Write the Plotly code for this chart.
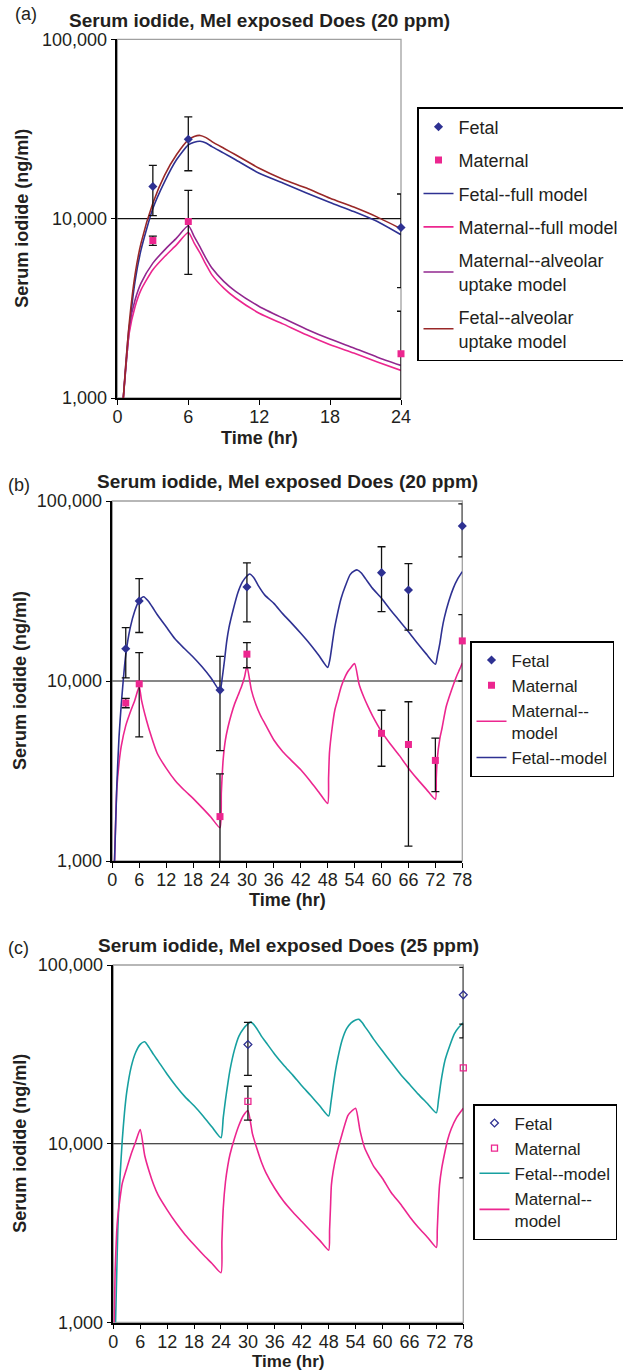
import plotly.graph_objects as go

W, H = 623, 1372
FONT = "Liberation Sans, Arial, sans-serif"
TXT = "#231F20"

# ---------------- data ----------------
# Panel (a): 20 ppm, single day
a_obs_t = [3, 6, 24]
a_fetal = [15100, 27700, 8920]
a_fetal_err = [4700, 9200, 4800]
a_mat = [7550, 9640, 1765]
a_mat_err = [450, 4750, 1280]

a_model_t = [0.5, 1, 1.5, 2, 3, 4, 5, 6, 6.5, 7, 7.5, 8, 9, 10, 12, 14, 16, 18, 20, 22, 24]
a_fetal_full = [1000, 2400, 4500, 6700, 11400, 16100, 21300, 25800, 26700, 27000, 26400, 25200, 23200,
                 21300, 17900, 15800, 13900, 12300, 10960, 9640, 8130]
a_fetal_alv = [1000, 2600, 4900, 7300, 12200, 17500, 22700, 27500, 28700, 29100, 28300, 26900, 24700,
               22700, 19100, 16600, 14800, 13000, 11600, 10200, 8780]
a_mat_full = [1000, 2300, 3240, 4010, 5190, 6150, 7140, 8370, 7300, 6420, 5550, 4860, 4100,
              3610, 2970, 2590, 2250, 1980, 1780, 1590, 1425]
a_mat_alv = [1000, 2510, 3530, 4370, 5650, 6700, 7790, 9120, 7950, 6940, 6000, 5300, 4470,
             3930, 3240, 2790, 2420, 2130, 1900, 1690, 1520]

# Panel (b): 20 ppm, repeated exposure
b_fetal_t = [3, 6, 24, 30, 60, 66, 78]
b_fetal = [15100, 27800, 8900, 33300, 40000, 32000, 72600]
b_fetal_err = [4700, 9200, 4800, 12000, 15700, 12850, 23700]
b_mat_t = [3, 6, 24, 30, 60, 66, 72, 78]
b_mat = [7550, 9640, 1765, 14100, 5120, 4440, 3620, 16700]
b_mat_err = [450, 4750, 1280, 2250, 1760, 3230, 1190, 6700]

b_fetal_model_t = [0.5, 1, 1.5, 2, 3, 4, 5, 6, 7, 8, 9, 10, 12, 14, 16, 18, 20, 22, 24,
                   24.5, 25, 25.5, 26, 27, 28, 29, 30, 30.6, 31.5, 32.5, 34, 36, 38, 40, 42, 44, 46, 48,
                   48.5, 49, 49.5, 50, 51, 52, 53, 54, 54.6, 55.5, 56.5, 58, 60, 62, 64, 66, 68, 70, 72,
                   72.5, 73, 73.5, 74, 75, 76, 77, 78]
b_fetal_model = [1000, 2600, 4900, 7400, 14000, 19800, 24500, 28000, 29400, 27800, 25600, 23400,
                 20000, 17100, 15200, 13600, 12000, 10400, 8820,
                 10400, 13000, 16600, 19800, 25200, 31000, 35500, 38300, 39300, 37600, 34000, 30000,
                 27000, 23600, 20900, 18400, 16100, 13900, 11900,
                 13200, 16000, 19400, 22500, 28800, 34000, 39000, 41000, 41400, 39800, 36800, 32700,
                 28800, 24800, 21600, 18800, 16200, 14100, 12400,
                 14000, 16200, 19500, 22500, 27800, 32800, 37000, 40500]

b_mat_model_t = [0.5, 1, 1.5, 2, 3, 4, 5, 6, 6.5, 7.6, 8.7, 10, 12, 14, 16, 18, 20, 22, 24,
                 24.3, 24.7, 25.2, 25.8, 26.5, 27.3, 28, 28.8, 29.5, 30, 31, 32, 33, 34, 36, 38, 40, 42, 44, 46, 48,
                 48.2, 48.4, 49, 49.6, 50.3, 51, 52, 52.5, 53.2, 54, 55, 56, 57, 58, 60, 62, 64, 66, 68, 70, 72,
                 72.2, 72.4, 73, 73.5, 74.4, 75.6, 76.7, 77.4, 78]
b_mat_model = [1000, 2500, 3500, 4350, 5650, 6700, 7800, 9300, 7850, 6070, 4910, 3970, 3280,
               2800, 2480, 2230, 1980, 1750, 1530,
               2400, 3640, 4700, 5570, 6500, 7510, 8300, 9310, 10600, 12100, 8900, 7400, 6450, 5800,
               4700, 4050, 3600, 3210, 2800, 2420, 2090,
               2900, 4000, 5500, 6900, 8000, 9300, 10700, 11300, 11900, 12500, 9600, 8200, 7200, 6400,
               5230, 4450, 3850, 3280, 2850, 2500, 2200,
               2900, 3640, 4800, 5500, 7190, 8900, 10600, 11600, 12600]

# Panel (c): 25 ppm, repeated exposure
c_obs_t = [30, 78]
c_fetal = [35900, 68100]
c_fetal_err = [11800, 29000]
c_mat = [17270, 26550]
c_mat_err = [3700, 20100]

c_fetal_model_t = [0.5, 1, 1.5, 2, 2.5, 3, 4, 5, 6, 7, 8, 9, 10, 12, 14, 16, 18, 20, 22, 24,
                   24.5, 25, 25.5, 26, 27, 28, 29, 30, 30.6, 31, 32, 33, 34, 36, 38, 40, 42, 44, 46, 48,
                   48.5, 49, 49.5, 50, 51, 52, 53, 54, 54.7, 55.5, 56, 57, 58, 60, 62, 64, 66, 68, 70, 72,
                   72.5, 73, 73.5, 74, 75, 76, 77, 78]
c_fetal_model = [1000, 3300, 6500, 10500, 15000, 19500, 27000, 32500, 36000, 37200, 34500, 31500,
                 29000, 24500, 21000, 18300, 16300, 14300, 12400, 10800,
                 14000, 17600, 21500, 25800, 33500, 40000, 44000, 46800, 47900, 47300, 44000, 40000,
                 37000, 31600, 27500, 24200, 21100, 18600, 16300, 14300,
                 17000, 21000, 25500, 29800, 38000, 44000, 47500, 49300, 49700, 47500, 45500, 42000,
                 38500, 33000, 28400, 24500, 21500, 18900, 16800, 14900,
                 17800, 22000, 26100, 29800, 35500, 41200, 44800, 47500]

c_mat_model_t = [0.2, 0.4, 0.75, 1, 1.5, 2, 3, 4, 5, 6, 7, 8, 9, 10, 12, 14, 16, 18, 20, 22, 24,
                 24.2, 24.5, 25, 25.5, 26, 27, 28, 29, 30, 31, 32, 33, 34, 36, 38, 40, 42, 44, 46, 48,
                 48.2, 48.4, 48.6, 49, 49.7, 50.8, 52.3, 53.2, 54, 55, 56, 57, 58, 60, 62, 64, 66, 68, 70, 72,
                 72.2, 72.4, 72.7, 73.2, 73.9, 74.5, 75.3, 76.5, 78]
c_mat_model = [1000, 1900, 3200, 3900, 4950, 6000, 7300, 8800, 10300, 12000, 8600, 7000, 5900,
               5160, 4270, 3600, 3100, 2720, 2400, 2140, 1900,
               2840, 4350, 6130, 7500, 8700, 10700, 12700, 14400, 15300, 11400, 9400, 7910, 6900,
               5620, 4750, 4150, 3670, 3250, 2880, 2540,
               3300, 4400, 5870, 7000, 8610, 10900, 14400, 15300, 15800, 11800, 9500, 8400, 7500,
               6390, 5300, 4600, 3920, 3400, 3000, 2630,
               3300, 4350, 5870, 7300, 8990, 10500, 12100, 14000, 15800]

x_ticks_a = [0, 6, 12, 18, 24]
x_ticks_bc = [0, 6, 12, 18, 24, 30, 36, 42, 48, 54, 60, 66, 72, 78]
y_tickvals = [1000, 10000, 100000]
y_ticktext = ["1,000", "10,000", "100,000"]

# ---------------- colours ----------------
C_FETAL = "#2E3192"
C_MAT = "#EC268F"
C_PURPLE = "#92278F"
C_RED = "#992828"
C_TEAL = "#17A0A0"

fig = go.Figure()


def add_line(t, v, xa, ya, name, color, legend, rank):
    fig.add_trace(go.Scatter(x=t, y=v, mode="lines", name=name, xaxis=xa, yaxis=ya,
                             legend=legend, legendgroup=legend + name, legendrank=rank,
                             line=dict(color=color, width=1.6, shape="spline", smoothing=0.6),
                             hoverinfo="skip"))


def add_obs(t, v, err, xa, ya, name, color, symbol, size, legend, rank, hollow=False):
    fig.add_trace(go.Scatter(x=t, y=v, mode="markers", xaxis=xa, yaxis=ya, showlegend=False,
                             marker=dict(size=size, opacity=0),
                             error_y=dict(type="data", array=err, color="#111111",
                                          thickness=1.3, width=4),
                             hoverinfo="skip"))
    if hollow:
        mk = dict(symbol=symbol + "-open", size=size, color=color, line=dict(width=1.3, color=color))
    else:
        mk = dict(symbol=symbol, size=size, color=color, line=dict(width=0))
    fig.add_trace(go.Scatter(x=t, y=v, mode="markers", name=name, xaxis=xa, yaxis=ya,
                             legend=legend, legendgroup=legend + name, legendrank=rank,
                             marker=mk, cliponaxis=False, hoverinfo="skip"))


# Panel (a)
add_line(a_model_t, a_fetal_full, "x", "y", "Fetal--full model", C_FETAL, "legend", 3)
add_line(a_model_t, a_mat_full, "x", "y", "Maternal--full model", C_MAT, "legend", 4)
add_line(a_model_t, a_mat_alv, "x", "y", "Maternal--alveolar<br>uptake model", C_PURPLE, "legend", 5)
add_line(a_model_t, a_fetal_alv, "x", "y", "Fetal--alveolar<br>uptake model", C_RED, "legend", 6)
add_obs(a_obs_t, a_fetal, a_fetal_err, "x", "y", "Fetal", C_FETAL, "diamond", 7, "legend", 1)
add_obs(a_obs_t, a_mat, a_mat_err, "x", "y", "Maternal", C_MAT, "square", 7, "legend", 2)

# Panel (b)
add_line(b_mat_model_t, b_mat_model, "x2", "y2", "Maternal--<br>model", C_MAT, "legend2", 3)
add_line(b_fetal_model_t, b_fetal_model, "x2", "y2", "Fetal--model", C_FETAL, "legend2", 4)
add_obs(b_fetal_t, b_fetal, b_fetal_err, "x2", "y2", "Fetal", C_FETAL, "diamond", 7, "legend2", 1)
add_obs(b_mat_t, b_mat, b_mat_err, "x2", "y2", "Maternal", C_MAT, "square", 7, "legend2", 2)

# Panel (c)
add_line(c_fetal_model_t, c_fetal_model, "x3", "y3", "Fetal--model", C_TEAL, "legend3", 3)
add_line(c_mat_model_t, c_mat_model, "x3", "y3", "Maternal--<br>model", C_MAT, "legend3", 4)
add_obs(c_obs_t, c_fetal, c_fetal_err, "x3", "y3", "Fetal", C_FETAL, "diamond", 6, "legend3", 1, hollow=True)
add_obs(c_obs_t, c_mat, c_mat_err, "x3", "y3", "Maternal", C_MAT, "square", 6, "legend3", 2, hollow=True)


def px_x(px):
    return px / W


def px_y(py):
    return 1 - py / H


tickfont = dict(family=FONT, size=18, color=TXT)


def xaxis(dom, ticks, anchor):
    return dict(domain=dom, range=[0, ticks[-1]], tickvals=ticks, ticks="outside", ticklen=5,
                tickwidth=1.3, tickcolor="black", showline=True, linecolor="black", linewidth=1.5,
                showgrid=False, zeroline=False, tickfont=tickfont, anchor=anchor, fixedrange=True,
                ticklabelstandoff=-3)


def yaxis(dom, anchor):
    return dict(domain=dom, type="log", range=[3, 5], tickvals=y_tickvals, ticktext=y_ticktext,
                ticks="outside", ticklen=5, tickwidth=1.3, tickcolor="black", showline=True,
                linecolor="black", linewidth=1.5, showgrid=False, zeroline=False,
                tickfont=tickfont, anchor=anchor, fixedrange=True)


# plot area pixel boxes: (left, right, top, bottom)
boxes = {
    "a": (117.4, 401.0, 39.3, 398.0),
    "b": (112.3, 462.3, 501.0, 861.0),
    "c": (113.3, 463.3, 965.0, 1322.5),
}


def dom(b):
    l, r, t, btm = b
    return [px_x(l), px_x(r)], [px_y(btm), px_y(t)]


xa_d, ya_d = dom(boxes["a"])
xb_d, yb_d = dom(boxes["b"])
xc_d, yc_d = dom(boxes["c"])


def legend_style(size):
    return dict(font=dict(family=FONT, size=size, color=TXT), bgcolor="white",
                bordercolor="black", borderwidth=1.5, xanchor="left", yanchor="top",
                itemclick=False, itemdoubleclick=False, traceorder="grouped")


fig.update_layout(
    width=W, height=H,
    margin=dict(l=0, r=0, t=0, b=0, autoexpand=False),
    paper_bgcolor="white", plot_bgcolor="white",
    font=dict(family=FONT, color=TXT, size=18),
    xaxis=xaxis(xa_d, x_ticks_a, "y"), yaxis=yaxis(ya_d, "x"),
    xaxis2=xaxis(xb_d, x_ticks_bc, "y2"), yaxis2=yaxis(yb_d, "x2"),
    xaxis3=xaxis(xc_d, x_ticks_bc, "y3"), yaxis3=yaxis(yc_d, "x3"),
    legend=dict(x=px_x(417), y=px_y(107), tracegroupgap=7, **legend_style(18)),
    legend2=dict(x=px_x(470), y=px_y(641), tracegroupgap=0, **legend_style(17)),
    legend3=dict(x=px_x(473), y=px_y(1104), tracegroupgap=0, **legend_style(17)),
    showlegend=True,
)

shapes = []
for xr, yr in (("x", "y"), ("x2", "y2"), ("x3", "y3")):
    shapes.append(dict(type="rect", xref=xr + " domain", yref=yr + " domain", x0=0, x1=1, y0=0, y1=1,
                       line=dict(color="#A0A0A0", width=1.3), layer="below"))
    shapes.append(dict(type="line", xref=xr + " domain", yref=yr + " domain", x0=0, x1=1, y0=0.5, y1=0.5,
                       line=dict(color="#111111", width=1.1), layer="below"))
fig.update_layout(shapes=shapes)

title_text = "<b>Serum iodide, MeI exposed Does ({} ppm)</b>"
ann = []
# key, label, label x, label y, ppm, y-title x, x-title centre y, x-title size
panels = [("a", "(a)", 26, 14, 20, 22, 437.5, 18),
          ("b", "(b)", 18.5, 485, 20, 20, 900.5, 18),
          ("c", "(c)", 18.5, 948, 25, 20, 1361, 17)]
for key, lab, lab_x, lab_y, ppm, ytitle_x, xt_y, xt_size in panels:
    l, r, t, btm = boxes[key]
    ann.append(dict(text=lab, x=px_x(lab_x), y=px_y(lab_y), xref="paper", yref="paper",
                    showarrow=False, font=dict(family=FONT, size=18, color=TXT),
                    xanchor="center", yanchor="middle"))
    ann.append(dict(text=title_text.format(ppm), x=px_x((l + r) / 2), y=px_y(t - 19),
                    xref="paper", yref="paper", showarrow=False,
                    font=dict(family=FONT, size=19, color=TXT), xanchor="center", yanchor="middle"))
    ann.append(dict(text="<b>Serum iodide (ng/ml)</b>", x=px_x(ytitle_x), y=px_y((t + btm) / 2),
                    xref="paper", yref="paper", showarrow=False, textangle=-90,
                    font=dict(family=FONT, size=18, color=TXT), xanchor="center", yanchor="middle"))
    ann.append(dict(text="<b>Time (hr)</b>", x=px_x((l + r) / 2), y=px_y(xt_y),
                    xref="paper", yref="paper", showarrow=False,
                    font=dict(family=FONT, size=xt_size, color=TXT), xanchor="center", yanchor="middle"))
fig.update_layout(annotations=ann)

fig.write_html("out.html")
